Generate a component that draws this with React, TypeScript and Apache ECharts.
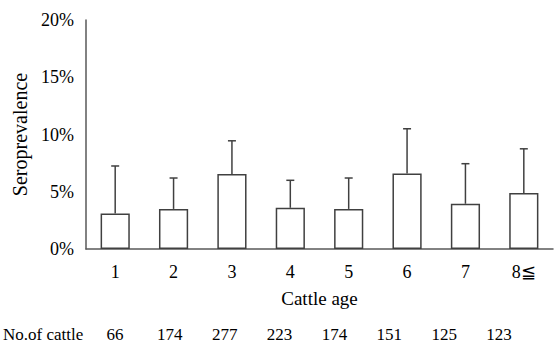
import React, { useEffect, useRef } from "react";
import * as echarts from "echarts";

const categories = ["1", "2", "3", "4", "5", "6", "7", "8≦"];
const seroprevalence = [3.1, 3.5, 6.55, 3.6, 3.5, 6.6, 3.95, 4.9];
const upperError = [7.25, 6.2, 9.45, 6.0, 6.2, 10.5, 7.45, 8.75];
const cattleCounts = ["66", "174", "277", "223", "174", "151", "125", "123"];
const yTicks = { min: 0, max: 20, interval: 5 };

const FONT = "Liberation Serif";
const INK = "#404040";

export default function App() {
  const ref = useRef<HTMLDivElement>(null);
  useEffect(() => {
    if (!ref.current) return;
    const chart = echarts.init(ref.current, undefined, { renderer: "svg" });
    chart.setOption({
      animation: false,
      backgroundColor: "#ffffff",
      textStyle: { fontFamily: FONT },
      grid: [
        { left: 86, right: 1, top: 20, bottom: 95 },
        { left: 87.5, width: 439, top: 320, height: 1 },
      ],
      xAxis: [
        {
          type: "category",
          data: categories,
          gridIndex: 0,
          axisLine: { lineStyle: { color: "#595959", width: 1.5 } },
          axisTick: { show: false },
          axisLabel: { color: "#000", fontSize: 18, fontFamily: FONT, margin: 14 },
          name: "Cattle age",
          nameLocation: "middle",
          nameGap: 40,
          nameTextStyle: { color: "#000", fontSize: 19, fontFamily: FONT },
        },
        {
          type: "category",
          data: cattleCounts,
          gridIndex: 1,
          axisLine: { show: false },
          axisTick: { show: false },
          axisLabel: { color: "#000", fontSize: 17, fontFamily: FONT, margin: 5 },
        },
      ],
      yAxis: [
        {
          type: "value",
          gridIndex: 0,
          min: yTicks.min,
          max: yTicks.max,
          interval: yTicks.interval,
          axisLine: { show: true, lineStyle: { color: "#595959", width: 1.5 } },
          axisTick: { show: false },
          splitLine: { show: false },
          axisLabel: {
            color: "#000",
            fontSize: 18,
            fontFamily: FONT,
            margin: 12,
            formatter: "{value}%",
          },
          name: "Seroprevalence",
          nameLocation: "middle",
          nameGap: 54,
          nameTextStyle: { color: "#000", fontSize: 20, fontFamily: FONT },
        },
        {
          type: "value",
          gridIndex: 1,
          show: false,
        },
      ],
      graphic: [
        {
          type: "text",
          left: 3,
          top: 326,
          style: { text: "No.of cattle", fontSize: 17, fontFamily: FONT, fill: "#000" },
        },
      ],
      series: [
        {
          type: "bar",
          xAxisIndex: 0,
          yAxisIndex: 0,
          data: seroprevalence,
          barWidth: "50%",
          itemStyle: { color: "#ffffff", borderColor: INK, borderWidth: 1.5 },
          z: 2,
        },
        {
          type: "custom",
          xAxisIndex: 0,
          yAxisIndex: 0,
          data: categories.map((c, i) => [i, seroprevalence[i], upperError[i]]),
          renderItem: (params: any, api: any) => {
            const x = api.value(0);
            const base = api.coord([x, api.value(1)]);
            const top = api.coord([x, api.value(2)]);
            const half = 4;
            return {
              type: "group",
              children: [
                {
                  type: "line",
                  shape: { x1: base[0], y1: base[1], x2: top[0], y2: top[1] },
                  style: { stroke: INK, lineWidth: 1.5 },
                },
                {
                  type: "line",
                  shape: { x1: top[0] - half, y1: top[1], x2: top[0] + half, y2: top[1] },
                  style: { stroke: INK, lineWidth: 1.5 },
                },
              ],
            };
          },
          z: 3,
        },
      ],
    });
    return () => chart.dispose();
  }, []);
  return <div ref={ref} style={{ width: 554, height: 344, position: "absolute", left: 0, top: 0 }} />;
}
